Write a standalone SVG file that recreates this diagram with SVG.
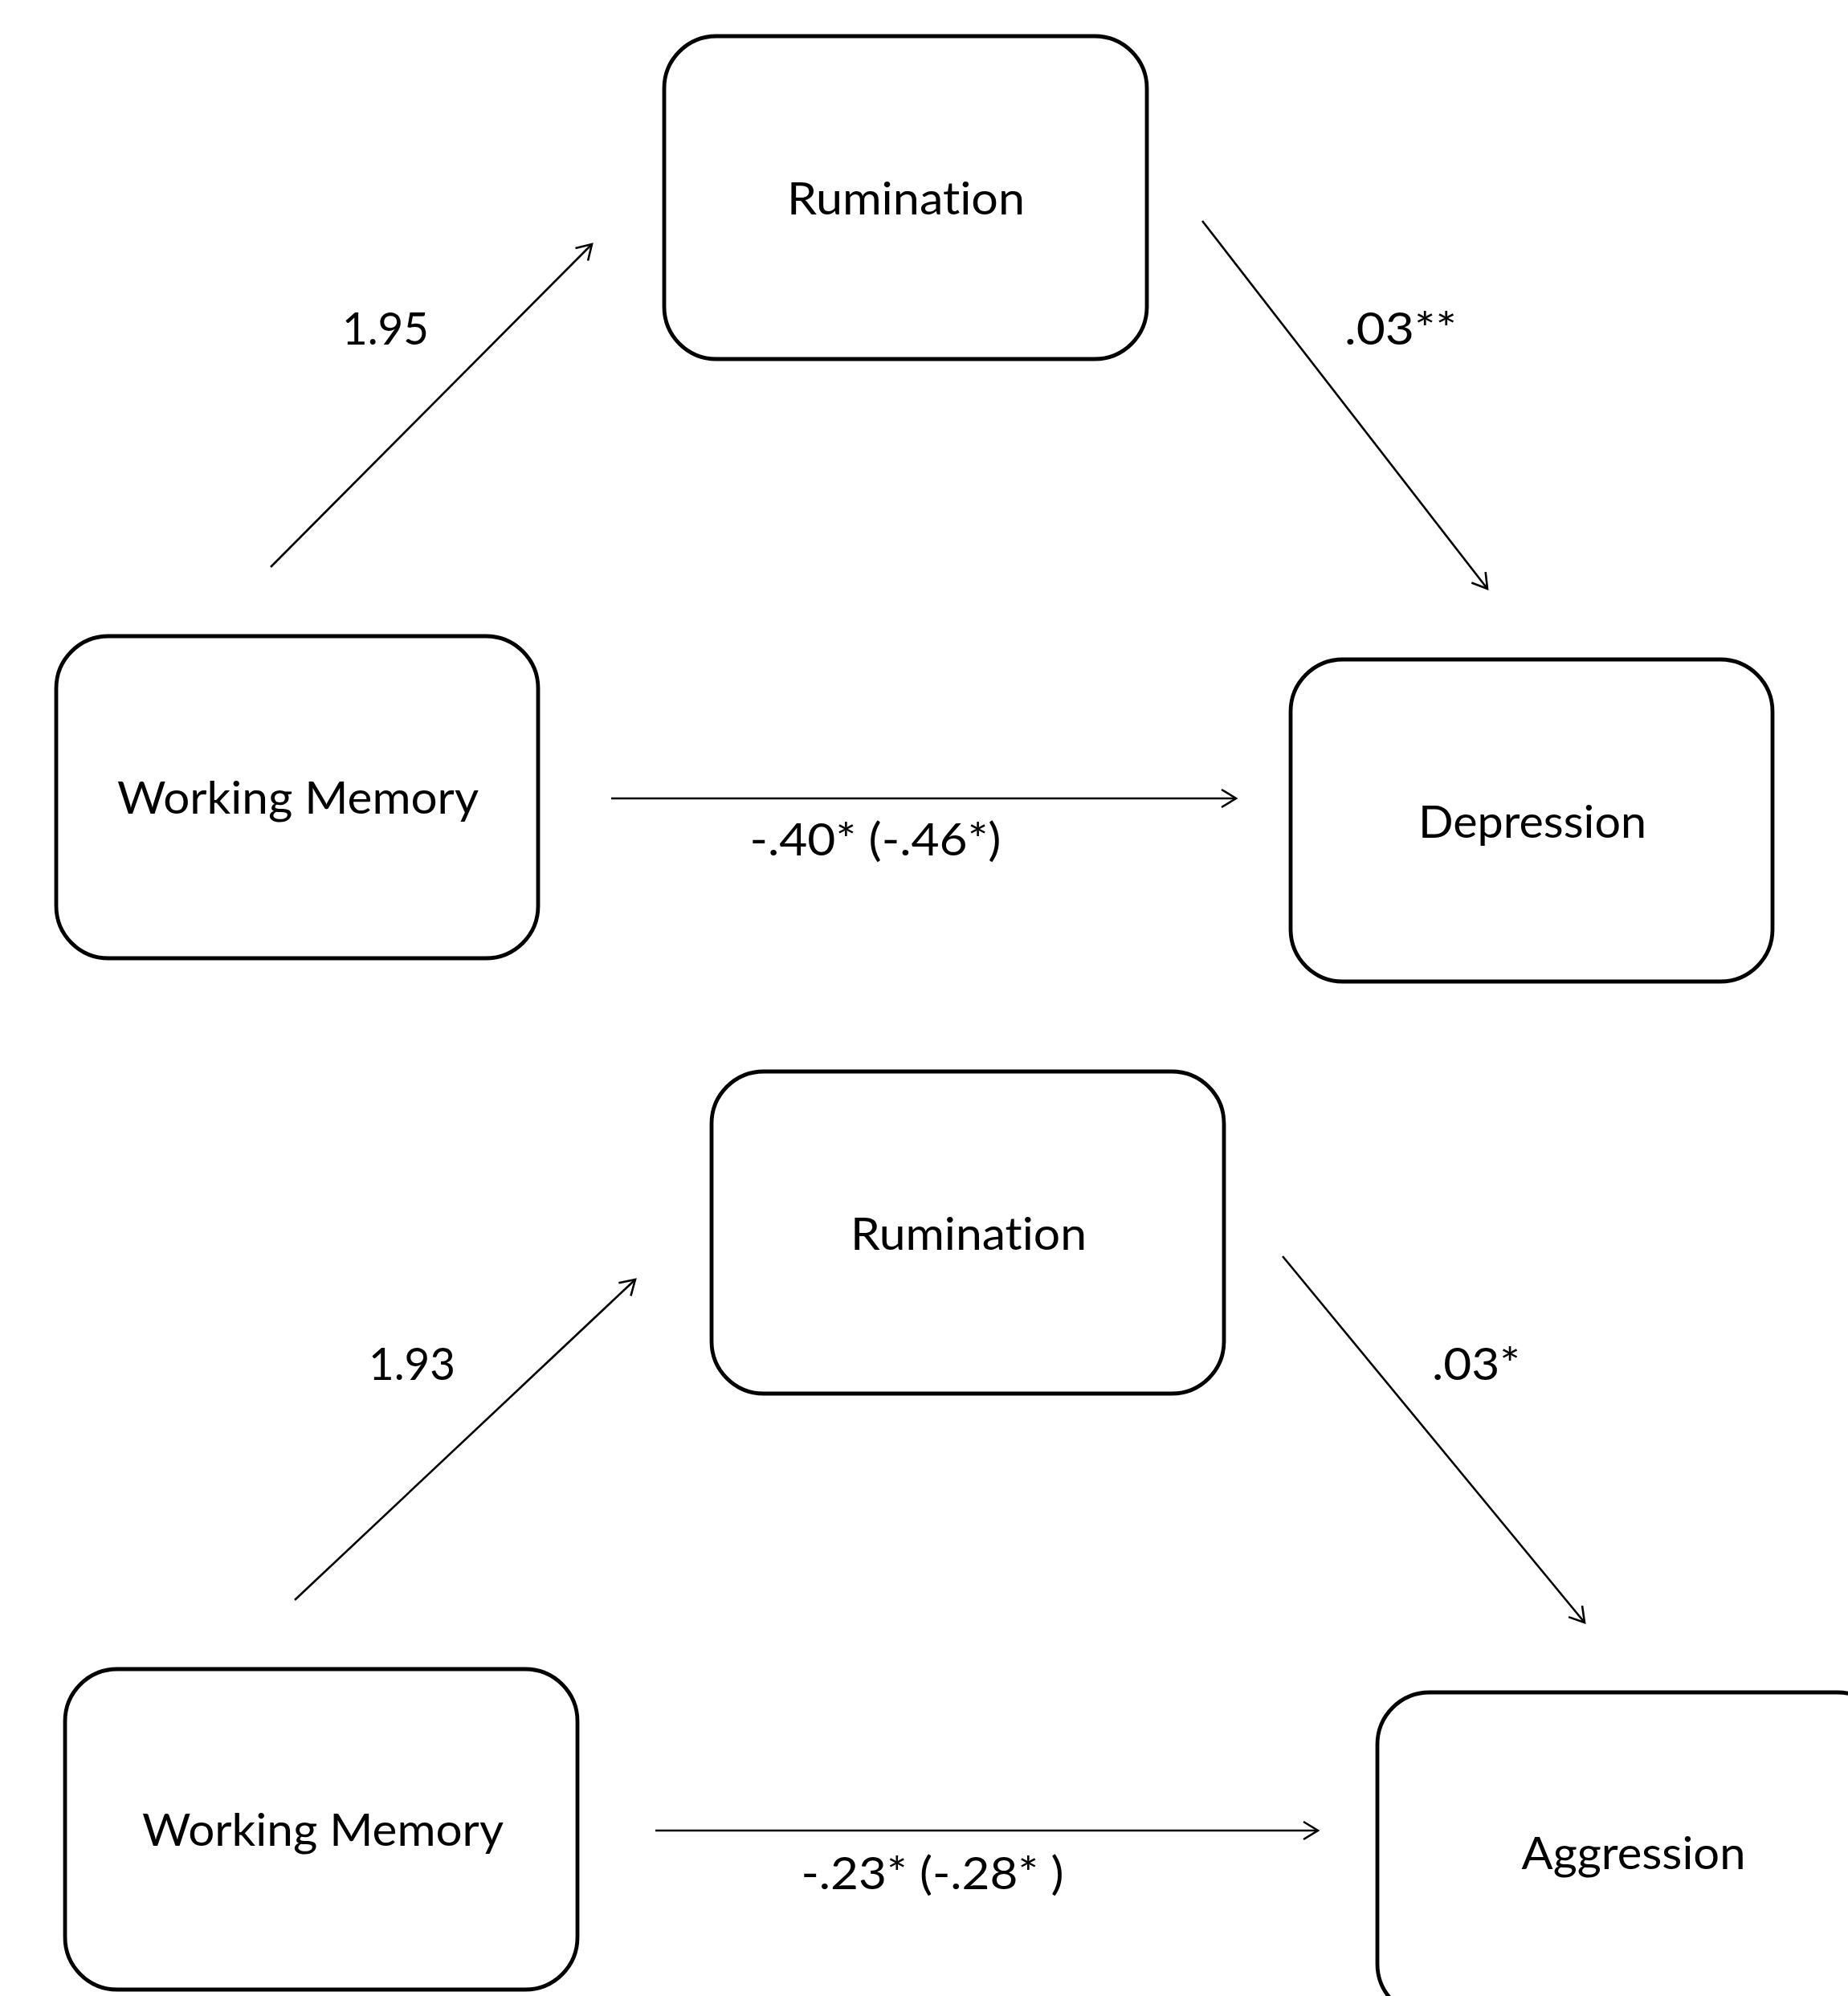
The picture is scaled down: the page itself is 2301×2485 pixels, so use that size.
<svg xmlns="http://www.w3.org/2000/svg" width="2301" height="2485" viewBox="0 0 2301 2485">
<style>
.box{fill:#fff;stroke:#000;stroke-width:4.8}
.lbl{font-family:Lato,"Open Sans","Liberation Sans",sans-serif;font-size:57px;fill:#000;text-anchor:middle;font-variant-ligatures:none;font-feature-settings:"liga" 0}
.edge{fill:none;stroke:#000;stroke-width:2.6;marker-end:url(#ah)}
</style>
<defs>
<marker id="ah" viewBox="-22 -14 26 28" markerWidth="26" markerHeight="28" refX="0" refY="0" orient="auto" markerUnits="userSpaceOnUse">
<path d="M-18,-11 L0,0 L-18,11" fill="none" stroke="#000" stroke-width="2.6"/>
</marker>
</defs>
<rect x="0" y="0" width="2301" height="2485" fill="#fff"/>
<g id="n-rum1"><rect class="box" x="827" y="45" width="601" height="402" rx="65" ry="65"/><text class="lbl" x="1128" y="267" textLength="296" lengthAdjust="spacingAndGlyphs">Rumination</text></g>
<g id="n-wm1"><rect class="box" x="70" y="792" width="600" height="401" rx="65" ry="65"/><text class="lbl" x="371" y="1013" textLength="450" lengthAdjust="spacingAndGlyphs">Working Memory</text></g>
<g id="n-dep"><rect class="box" x="1607" y="821" width="600" height="401" rx="65" ry="65"/><text class="lbl" x="1908" y="1043" textLength="284" lengthAdjust="spacingAndGlyphs">Depression</text></g>
<g id="n-rum2"><rect class="box" x="886" y="1334" width="638" height="401" rx="65" ry="65"/><text class="lbl" x="1206" y="1556" textLength="294" lengthAdjust="spacingAndGlyphs">Rumination</text></g>
<g id="n-wm2"><rect class="box" x="81" y="2078" width="638" height="399" rx="65" ry="65"/><text class="lbl" x="402" y="2298" textLength="450" lengthAdjust="spacingAndGlyphs">Working Memory</text></g>
<g id="n-agg"><rect class="box" x="1715" y="2107" width="638" height="403" rx="65" ry="65"/><text class="lbl" x="2034" y="2327" textLength="279" lengthAdjust="spacingAndGlyphs">Aggression</text></g>
<g id="connectors">
<line class="edge" x1="337" y1="706" x2="737" y2="304"/>
<line class="edge" x1="1497" y1="275" x2="1852" y2="733"/>
<line class="edge" x1="761" y1="994" x2="1539" y2="994"/>
<line class="edge" x1="367" y1="1992" x2="791" y2="1593"/>
<line class="edge" x1="1597" y1="1564" x2="1973" y2="2020"/>
<line class="edge" x1="816" y1="2279" x2="1641" y2="2279"/>
<text class="lbl" x="480" y="429" textLength="108" lengthAdjust="spacingAndGlyphs">1.95</text>
<text class="lbl" x="1744" y="429" textLength="140" lengthAdjust="spacingAndGlyphs">.03**</text>
<text class="lbl" x="1090" y="1065" textLength="313" lengthAdjust="spacingAndGlyphs">-.40* (-.46*)</text>
<text class="lbl" x="513" y="1718" textLength="108" lengthAdjust="spacingAndGlyphs">1.93</text>
<text class="lbl" x="1838" y="1718" textLength="110" lengthAdjust="spacingAndGlyphs">.03*</text>
<text class="lbl" x="1161" y="2352" textLength="327" lengthAdjust="spacingAndGlyphs">-.23* (-.28* )</text>
</g>
</svg>
